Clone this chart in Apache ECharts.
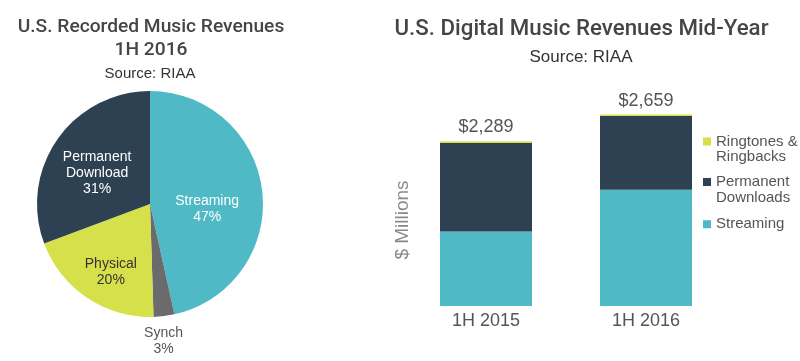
<!DOCTYPE html>
<html><head><meta charset="utf-8">
<script src="https://cdn.jsdelivr.net/npm/echarts@6/dist/echarts.min.js"></script>
<style>html,body{margin:0;padding:0;background:#fff}#c{width:800px;height:361px}</style>
</head><body><div id="c"></div>
<script>
// Pie: share of U.S. recorded music revenues 1H 2016 (%)
const pieNames = ['Streaming', 'Synch', 'Physical', 'Permanent\nDownload'];
const pieValues = [47, 3, 20, 31];
// Stacked bars: digital revenues ($ millions)
const barCategories = ['1H 2015', '1H 2016'];
const streaming = [1035, 1613];
const downloads = [1229, 1026];
const ringtones = [25, 20];
const totalLabels = ['$2,289', '$2,659'];

const C_STREAM = '#4fbac6', C_DL = '#2e4152', C_PHYS = '#d6e04a', C_SYNCH = '#6b6b6e';
const FONT = '"Liberation Sans", Arial, sans-serif';
const TFONT = 'Roboto, "Liberation Sans", sans-serif';
const pieColors = [C_STREAM, C_SYNCH, C_PHYS, C_DL];
const pieLabelColors = ['#ffffff', '#555555', '#333333', '#ffffff'];
const TWO_LINE_ICON = 'path://M0,0H8V8H0Z M0,23.5h0.01v0.01h-0.01Z';

function legendItem(name, top, twoLine) {
  return {left: 703, top: top, orient: 'vertical', padding: 0,
    icon: twoLine ? TWO_LINE_ICON : 'rect', itemWidth: 8, itemHeight: twoLine ? 23.5 : 8,
    textStyle: {fontSize: 15, lineHeight: 15.5, color: '#555', fontFamily: FONT},
    data: [name]};
}

const chart = echarts.init(document.getElementById('c'), null, {renderer: 'canvas'});
chart.setOption({
  animation: false,
  textStyle: {fontFamily: FONT},
  graphic: [
    {type: 'text', x: 151, y: 27, style: {text: 'U.S. Recorded Music Revenues', textAlign: 'center', textVerticalAlign: 'middle', font: '500 19.2px ' + TFONT, fill: '#454545'}},
    {type: 'text', x: 151, y: 50, style: {text: '1H 2016', textAlign: 'center', textVerticalAlign: 'middle', font: '500 19.2px ' + TFONT, fill: '#454545'}},
    {type: 'text', x: 150, y: 73.5, style: {text: 'Source: RIAA', textAlign: 'center', textVerticalAlign: 'middle', font: '15px ' + FONT, fill: '#333'}},
    {type: 'text', x: 581.5, y: 29.5, style: {text: 'U.S. Digital Music Revenues Mid-Year', textAlign: 'center', textVerticalAlign: 'middle', font: '500 22.3px ' + TFONT, fill: '#454545'}},
    {type: 'text', x: 581, y: 57, style: {text: 'Source: RIAA', textAlign: 'center', textVerticalAlign: 'middle', font: '17px ' + FONT, fill: '#333'}},
    {type: 'text', x: 403, y: 220, rotation: Math.PI / 2, style: {text: '$ Millions', textAlign: 'center', textVerticalAlign: 'middle', font: '19px ' + FONT, fill: '#8a8a8a'}}
  ],
  legend: [
    legendItem('Ringtones &\nRingbacks', 133.75, true),
    legendItem('Permanent\nDownloads', 174.25, true),
    legendItem('Streaming', 216.5, false)
  ],
  grid: {left: 406, width: 320, top: 90, bottom: 55},
  xAxis: {type: 'category', data: barCategories,
    axisLine: {show: false}, axisTick: {show: false},
    axisLabel: {fontSize: 18, color: '#555', margin: 6}},
  yAxis: {type: 'value', min: 0, max: 3000, show: false},
  series: [
    {type: 'pie', center: [150, 204], radius: 113, startAngle: 90, clockwise: true,
     data: pieNames.map((n, i) => ({name: n, value: pieValues[i], itemStyle: {color: pieColors[i]},
       label: {color: pieLabelColors[i], position: i === 1 ? 'outside' : 'inside'},
       labelLine: {show: false}})),
     label: {formatter: '{b}\n{c}%', fontSize: 14, lineHeight: 16, fontFamily: FONT},
     labelLine: {show: false, length: 4, length2: 0},
     labelLayout: function (p) {
       if (p.dataIndex === 0) return {dx: -2, dy: 12};
       if (p.dataIndex === 2) return {dx: -6, dy: 19};
       if (p.dataIndex === 3) return {dx: -4, dy: 3};
       if (p.dataIndex === 1) return {align: 'center', verticalAlign: 'top', dx: -6, dy: 5};
       return {};
     },
     legendHoverLink: false, silent: true},
    {name: 'Streaming', type: 'bar', stack: 'd', data: streaming, barWidth: 92, itemStyle: {color: C_STREAM}},
    {name: 'Permanent\nDownloads', type: 'bar', stack: 'd', data: downloads, barWidth: 92, itemStyle: {color: C_DL}},
    {name: 'Ringtones &\nRingbacks', type: 'bar', stack: 'd', data: ringtones, barWidth: 92, itemStyle: {color: C_PHYS},
     label: {show: true, position: 'top', distance: 5, fontSize: 18, color: '#555',
       formatter: p => totalLabels[p.dataIndex]}}
  ]
});
</script></body></html>
